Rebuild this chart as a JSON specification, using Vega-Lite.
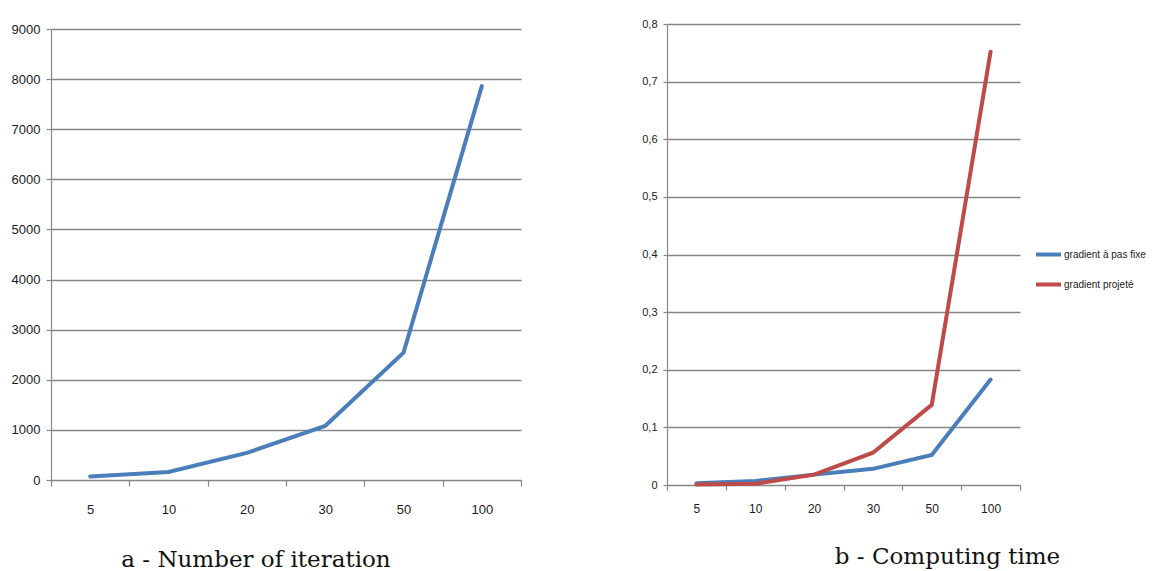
{
  "$schema": "https://vega.github.io/schema/vega-lite/v6.json",
  "autosize": {"type": "pad"},
  "padding": {"left": 11, "top": 18, "right": 0, "bottom": 0},
  "background": "#ffffff",
  "bounds": "flush",
  "center": true,
  "spacing": 146,
  "config": {
    "view": {"stroke": null},
    "axis": {
      "domainColor": "#868686",
      "domainWidth": 1.2,
      "tickColor": "#868686",
      "tickWidth": 1.2,
      "gridColor": "#868686",
      "gridWidth": 1.3,
      "gridOpacity": 1,
      "labelColor": "#1a1a1a",
      "labelFont": "Liberation Sans"
    },
    "title": {
      "font": "DejaVu Serif",
      "fontWeight": "normal",
      "color": "#111111"
    }
  },
  "hconcat": [
    {
      "width": 470,
      "height": 451,
      "title": {"text": "a - Number of iteration", "orient": "bottom", "anchor": "middle", "fontSize": 23, "offset": 33, "dx": -30},
      "data": {
        "values": [
          {"n": 5, "iterations": 70},
          {"n": 10, "iterations": 160},
          {"n": 20, "iterations": 540},
          {"n": 30, "iterations": 1080},
          {"n": 50, "iterations": 2540},
          {"n": 100, "iterations": 7860}
        ]
      },
      "mark": {"type": "line", "color": "#4a7ebb", "strokeWidth": 4, "strokeCap": "round"},
      "encoding": {
        "x": {
          "field": "n", "type": "ordinal", "bandPosition": 0.5,
          "scale": {"type": "band", "paddingInner": 0, "paddingOuter": 0},
          "axis": {"title": null, "labelAngle": 0, "tickBand": "extent", "tickSize": 6, "labelPadding": 17, "labelFontSize": 13, "grid": false}
        },
        "y": {
          "field": "iterations", "type": "quantitative",
          "scale": {"domain": [0, 9000], "nice": false},
          "axis": {"title": null, "format": "d", "values": [0, 1000, 2000, 3000, 4000, 5000, 6000, 7000, 8000, 9000], "tickSize": 5, "labelPadding": 6, "labelFontSize": 13, "grid": true}
        }
      }
    },
    {
      "width": 353,
      "height": 461,
      "title": {"text": "b - Computing time", "orient": "bottom", "anchor": "middle", "fontSize": 23, "offset": 32, "dx": 104},
      "data": {
        "values": [
          {"n": 5, "method": "gradient à pas fixe", "time": 0.003},
          {"n": 10, "method": "gradient à pas fixe", "time": 0.007},
          {"n": 20, "method": "gradient à pas fixe", "time": 0.018},
          {"n": 30, "method": "gradient à pas fixe", "time": 0.028},
          {"n": 50, "method": "gradient à pas fixe", "time": 0.052},
          {"n": 100, "method": "gradient à pas fixe", "time": 0.183},
          {"n": 5, "method": "gradient projeté", "time": 0.001},
          {"n": 10, "method": "gradient projeté", "time": 0.002},
          {"n": 20, "method": "gradient projeté", "time": 0.018},
          {"n": 30, "method": "gradient projeté", "time": 0.056},
          {"n": 50, "method": "gradient projeté", "time": 0.139},
          {"n": 100, "method": "gradient projeté", "time": 0.752}
        ]
      },
      "mark": {"type": "line", "strokeWidth": 4, "strokeCap": "round"},
      "encoding": {
        "x": {
          "field": "n", "type": "ordinal", "bandPosition": 0.5,
          "scale": {"type": "band", "paddingInner": 0, "paddingOuter": 0},
          "axis": {"title": null, "labelAngle": 0, "tickBand": "extent", "tickSize": 5, "labelPadding": 13, "labelFontSize": 12, "grid": false}
        },
        "y": {
          "field": "time", "type": "quantitative",
          "scale": {"domain": [0, 0.8], "nice": false},
          "axis": {
            "title": null,
            "values": [0, 0.1, 0.2, 0.3, 0.4, 0.5, 0.6, 0.7, 0.8],
            "labelExpr": "replace(format(datum.value, '.1~f'), '.', ',')",
            "tickSize": 4, "labelPadding": 6, "labelFontSize": 11, "grid": true
          }
        },
        "color": {
          "field": "method", "type": "nominal",
          "scale": {"domain": ["gradient à pas fixe", "gradient projeté"], "range": ["#4a7ebb", "#be4b48"]},
          "legend": {
            "title": null,
            "orient": "none",
            "legendX": 983,
            "legendY": 216,
            "padding": 0,
            "symbolType": "stroke",
            "symbolSize": 625,
            "symbolStrokeWidth": 4,
            "rowPadding": 7,
            "labelOffset": 1,
            "labelFont": "Liberation Sans",
            "labelFontSize": 10,
            "labelColor": "#1a1a1a"
          }
        }
      }
    }
  ]
}
